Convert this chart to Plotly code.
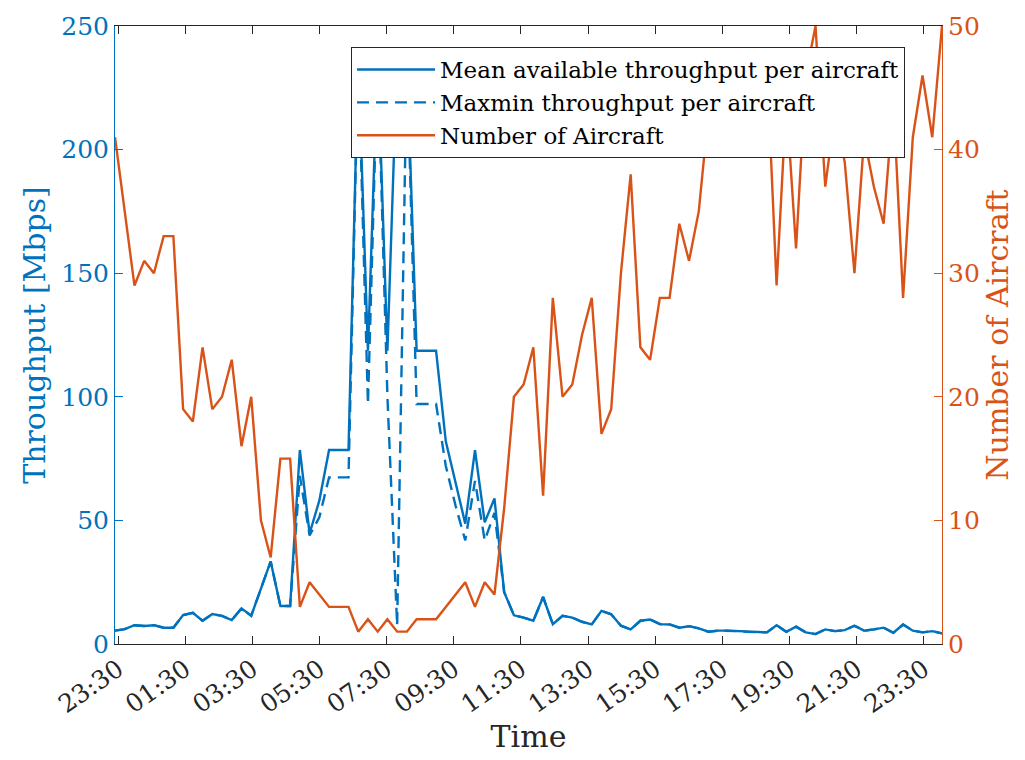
import pandas as pd
import plotly.graph_objects as go

BLUE = "#0072BD"
ORANGE = "#D95319"
DARK = "#262626"
FONT = "DejaVu Serif"

# sampling instants (uniform sampling between first and last record)
t_start = "2021-03-01 23:24:36"
t_end = "2021-03-03 00:02:24"
n_samples = 86

mean_tp = [5.4, 6.0, 7.6, 7.3, 7.6, 6.6, 6.6, 11.7, 12.6, 9.4,
           12.1, 11.4, 9.7, 14.4, 11.4, 22.5, 33.4, 15.4, 15.4, 78.5,
           44.7, 58.0, 78.5, 78.5, 78.5, 237, 118.6, 237, 118.6, 237,
           237, 118.6, 118.6, 118.6, 82, 65, 48.7, 78.4, 49.2, 58.9,
           21.0, 11.6, 10.7, 9.4, 19.0, 8.05, 11.4, 10.7, 9.0, 7.9,
           13.4, 12.0, 7.4, 5.9, 9.4, 9.9, 8.05, 7.9, 6.6, 7.2,
           6.3, 4.95, 5.4, 5.4, 5.2, 4.9, 4.8, 4.7, 7.6, 4.95,
           7.0, 4.7, 4.0, 5.9, 5.2, 5.6, 7.4, 5.4, 5.9, 6.6,
           4.55, 7.9, 5.4, 4.7, 5.2, 4.3]

maxmin_tp = [5.4, 6.0, 7.6, 7.3, 7.6, 6.6, 6.6, 11.7, 12.6, 9.4,
             12.1, 11.4, 9.7, 14.4, 11.4, 22.5, 33.4, 15.4, 15.4, 68.0,
             43.9, 51.2, 67.4, 67.4, 67.4, 237, 97.1, 237, 100.0, 7.5,
             237, 97.1, 97.1, 97.1, 72, 56, 41.9, 66.0, 41.9, 53.0,
             21.0, 11.6, 10.7, 9.4, 19.0, 8.05, 11.4, 10.7, 9.0, 7.9,
             13.4, 12.0, 7.4, 5.9, 9.4, 9.9, 8.05, 7.9, 6.6, 7.2,
             6.3, 4.95, 5.4, 5.4, 5.2, 4.9, 4.8, 4.7, 7.6, 4.95,
             7.0, 4.7, 4.0, 5.9, 5.2, 5.6, 7.4, 5.4, 5.9, 6.6,
             4.55, 7.9, 5.4, 4.7, 5.2, 4.3]

aircraft = [41, 35, 29, 31, 30, 33, 33, 19, 18, 24,
            19, 20, 23, 16, 20, 10, 7, 15, 15, 3,
            5, 4, 3, 3, 3, 1, 2, 1, 2, 1,
            1, 2, 2, 2, 3, 4, 5, 3, 5, 4,
            11, 20, 21, 24, 12, 28, 20, 21, 25, 28,
            17, 19, 30, 38, 24, 23, 28, 28, 34, 31,
            35, 43, 41, 41, 42, 45, 46, 47, 29, 44,
            32, 46, 50, 37, 43, 39, 30, 41, 37, 34,
            44, 28, 41, 46, 41, 50]

times = pd.date_range(t_start, t_end, periods=n_samples)

fig = go.Figure()
fig.add_trace(go.Scatter(x=times, y=mean_tp, mode="lines",
                         name="Mean available throughput per aircraft",
                         line=dict(color=BLUE, width=2.4)))
fig.add_trace(go.Scatter(x=times, y=maxmin_tp, mode="lines",
                         name="Maxmin throughput per aircraft",
                         line=dict(color=BLUE, width=2.4, dash="12px,7px")))
fig.add_trace(go.Scatter(x=times, y=aircraft, mode="lines", yaxis="y2",
                         name="Number of Aircraft",
                         line=dict(color=ORANGE, width=2.4)))

fig.update_layout(
    width=1025, height=760,
    margin=dict(l=115, r=83, t=23, b=116),
    paper_bgcolor="white", plot_bgcolor="white",
    font=dict(family=FONT, size=22, color=DARK),
    showlegend=True,
    legend=dict(x=0.2854, y=0.966, xanchor="left", yanchor="top",
                bgcolor="white", bordercolor=DARK, borderwidth=1,
                font=dict(family=FONT, size=23, color="black"),
                itemwidth=78, tracegroupgap=0),
    xaxis=dict(
        type="date", range=[times[0], times[-1]],
        tick0="2021-03-01 23:30", dtick=7200000, tickformat="%H:%M",
        tickangle=-35, ticks="inside", ticklen=8, tickcolor=DARK,
        showline=True, linecolor=DARK, linewidth=1, mirror="ticks",
        showgrid=False, zeroline=False,
        tickfont=dict(family=FONT, size=25, color=DARK),
        title=dict(text="Time", font=dict(family=FONT, size=30, color=DARK),
                   standoff=6),
    ),
    yaxis=dict(
        range=[0, 250], tick0=0, dtick=50, ticks="inside", ticklen=8,
        tickcolor=BLUE, showline=True, linecolor=BLUE, linewidth=1,
        showgrid=False, zeroline=False,
        tickfont=dict(family=FONT, size=25, color=BLUE),
        title=dict(text="Throughput [Mbps]",
                   font=dict(family=FONT, size=30, color=BLUE), standoff=6),
    ),
    yaxis2=dict(
        range=[0, 50], tick0=0, dtick=10, overlaying="y", side="right",
        ticks="inside", ticklen=8, tickcolor=ORANGE, showline=True,
        linecolor=ORANGE, linewidth=1, showgrid=False, zeroline=False,
        tickfont=dict(family=FONT, size=25, color=ORANGE),
        title=dict(text="Number of Aircraft",
                   font=dict(family=FONT, size=30, color=ORANGE), standoff=6),
    ),
)

fig.write_html("out.html")
